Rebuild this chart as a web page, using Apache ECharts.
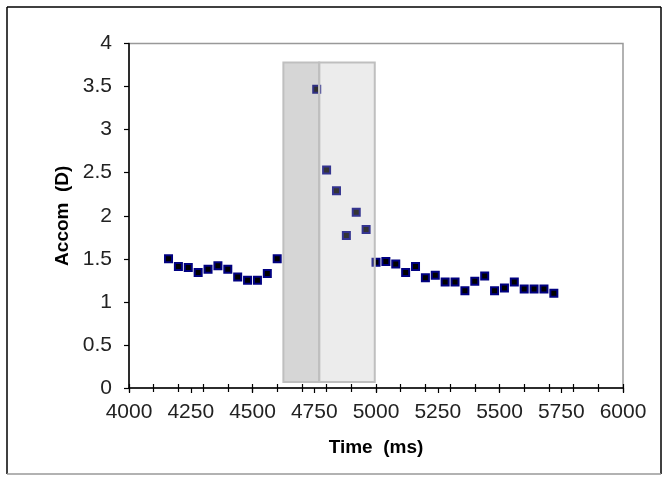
<!DOCTYPE html>
<html lang="en">
<head>
    <meta charset="utf-8">
    <title>Accom vs Time</title>
    <script src="https://cdn.jsdelivr.net/npm/echarts@6/dist/echarts.min.js"></script>
    <style>
        html, body { margin: 0; padding: 0; background: #fff; }
    </style>
</head>
<body>
<div id="main" style="width: 664px;height:477px;"></div>

<script type="text/javascript">
    // time (ms) of each sample
    var timeMs = [
        4160, 4200, 4240, 4280, 4320, 4360, 4400, 4440, 4480, 4520, 4560, 4600,
        4760, 4800, 4840, 4880, 4920, 4960, 5000, 5040, 5080, 5120, 5160, 5200,
        5240, 5280, 5320, 5360, 5400, 5440, 5480, 5520, 5560, 5600, 5640, 5680, 5720
    ];
    // accommodation (D)
    var accom = [
        1.50, 1.41, 1.40, 1.34, 1.38, 1.42, 1.38, 1.29, 1.25, 1.25, 1.33, 1.50,
        3.47, 2.53, 2.29, 1.77, 2.04, 1.84, 1.46, 1.47, 1.44, 1.34, 1.41, 1.28,
        1.31, 1.23, 1.23, 1.13, 1.24, 1.30, 1.13, 1.16, 1.23, 1.15, 1.15, 1.15, 1.10
    ];
    // shaded windows: [start ms, end ms]
    var darkWindow = [625, 770];
    var lightWindow = [770, 995];
    var windowOffset = 4000;
    var windowY = [0.07, 3.78];

    var xTicks = { min: 4000, max: 6000, step: 250, minorStep: 100 };
    var yTicks = { min: 0, max: 4, step: 0.5 };

    var myChart = echarts.init(document.getElementById('main'));

    var points = timeMs.map(function (t, i) { return [t, accom[i]]; });
    var windows = [
        [windowOffset + darkWindow[0], windowOffset + darkWindow[1], windowY[0], windowY[1], 'rgba(138,138,138,0.35)'],
        [windowOffset + lightWindow[0], windowOffset + lightWindow[1], windowY[0], windowY[1], 'rgba(185,185,185,0.28)']
    ];

    var labelFont = { fontFamily: 'Liberation Sans', fontSize: 21, color: '#222' };
    var titleFont = { fontFamily: 'Liberation Sans', fontSize: 19, fontWeight: 'bold', color: '#000' };

    var option = {
        animation: false,
        backgroundColor: '#fff',
        graphic: [
            // outer chart border
            { type: 'line', shape: { x1: 7, y1: 7, x2: 661, y2: 7 }, style: { stroke: '#000', lineWidth: 1.5 } },
            { type: 'line', shape: { x1: 7, y1: 7, x2: 7, y2: 474 }, style: { stroke: '#000', lineWidth: 1.5 } },
            { type: 'line', shape: { x1: 661, y1: 7, x2: 661, y2: 474 }, style: { stroke: '#000', lineWidth: 1.5 } },
            { type: 'line', shape: { x1: 7, y1: 474, x2: 661, y2: 474 }, style: { stroke: '#999', lineWidth: 1.5 } }
        ],
        grid: {
            left: 129, top: 43.5, right: 41, bottom: 89,
            show: true, borderColor: '#999', borderWidth: 1.5, backgroundColor: 'transparent'
        },
        xAxis: [{
            type: 'value',
            min: xTicks.min, max: xTicks.max, interval: xTicks.step,
            name: 'Time  (ms)', nameLocation: 'middle', nameGap: 50,
            nameTextStyle: titleFont,
            axisLine: { show: true, onZero: false, lineStyle: { color: '#000', width: 1.5 } },
            axisTick: { show: true, length: 5, lineStyle: { color: '#000', width: 1.2 } },
            axisLabel: Object.assign({ margin: 14, formatter: function (v) { return String(v); } }, labelFont),
            splitLine: { show: false }
        }, {
            type: 'value', position: 'bottom', gridIndex: 0,
            min: xTicks.min, max: xTicks.max, interval: xTicks.minorStep,
            axisLine: { show: false, onZero: false },
            axisTick: { show: true, inside: true, length: 4, lineStyle: { color: '#000', width: 1.2 } },
            axisLabel: { show: false }, splitLine: { show: false }
        }, {
            type: 'value', position: 'bottom', gridIndex: 0,
            min: xTicks.min, max: xTicks.max, interval: xTicks.minorStep,
            axisLine: { show: false, onZero: false },
            axisTick: { show: true, inside: false, length: 4, lineStyle: { color: '#000', width: 1.2 } },
            axisLabel: { show: false }, splitLine: { show: false }
        }],
        yAxis: {
            type: 'value',
            min: yTicks.min, max: yTicks.max, interval: yTicks.step,
            name: 'Accom  (D)', nameLocation: 'middle', nameGap: 57,
            nameTextStyle: titleFont,
            axisLine: { show: true, onZero: false, lineStyle: { color: '#000', width: 1.5 } },
            axisTick: { show: true, length: 5, lineStyle: { color: '#000', width: 1.2 } },
            axisLabel: Object.assign({ margin: 17 }, labelFont),
            splitLine: { show: false }
        },
        series: [{
            type: 'scatter',
            data: points,
            symbol: 'rect',
            symbolSize: 7,
            z: 2,
            itemStyle: { color: '#000', borderColor: '#000080', borderWidth: 2, opacity: 1 }
        }, {
            type: 'custom',
            data: windows,
            z: 10,
            silent: true,
            renderItem: function (params, api) {
                var p0 = api.coord([api.value(0), api.value(3)]);
                var p1 = api.coord([api.value(1), api.value(2)]);
                return {
                    type: 'rect',
                    shape: { x: p0[0], y: p0[1], width: p1[0] - p0[0], height: p1[1] - p0[1] },
                    style: { fill: windows[params.dataIndex][4], stroke: '#bfbfbf', lineWidth: 2 }
                };
            }
        }]
    };

    option && myChart.setOption(option);
</script>
</body>
</html>
